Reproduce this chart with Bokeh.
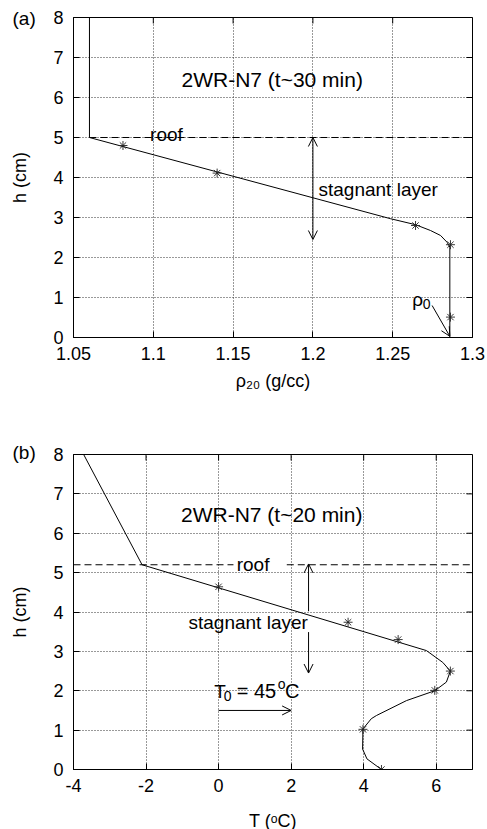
from bokeh.plotting import figure
from bokeh.layouts import column
from bokeh.models import (Label, Arrow, OpenHead, FixedTicker, Title,
                          CustomJSTickFormatter, Range1d)
from bokeh.embed import file_html
from bokeh.resources import INLINE

FONT = "Liberation Sans"

# ---------------- data : panel (a) ----------------
a_curve_rho = [1.06, 1.06, 1.2486, 1.2643, 1.2737, 1.280, 1.2841, 1.2858, 1.2858]
a_curve_h = [8.0, 5.0, 2.97, 2.82, 2.675, 2.55, 2.38, 2.26, 0.0]
a_pts_rho = [1.081, 1.140, 1.2643, 1.2862, 1.2862]
a_pts_h = [4.8, 4.11, 2.8, 2.32, 0.51]
a_roof_rho = [1.06, 1.3]
a_roof_h = [5.0, 5.0]
a_xrange = (1.05, 1.3)
a_xticks = [1.05, 1.1, 1.15, 1.2, 1.25, 1.3]
a_arrow_stag = (1.2, 5.0, 1.2, 2.45)        # double arrow x0,y0,x1,y1
a_arrow_rho0 = (1.2747, 0.80, 1.2858, 0.03)

# ---------------- data : panel (b) ----------------
b_curve_T = [-3.72, -2.11, 5.73, 6.18, 6.39, 6.28, 5.96, 5.18, 4.35, 4.21, 3.98, 3.97, 4.09, 4.49]
b_curve_h = [8.0, 5.2, 3.02, 2.72, 2.5, 2.22, 2.0, 1.75, 1.37, 1.29, 1.03, 0.52, 0.27, 0.0]
b_pts_T = [0.0, 3.57, 4.95, 6.39, 5.96, 3.98, 4.49]
b_pts_h = [4.64, 3.74, 3.30, 2.50, 2.01, 1.02, 0.0]
b_roof_T = [[-4, 0.41], [1.88, 7]]
b_roof_h = [[5.2, 5.2], [5.2, 5.2]]
b_xrange = (-4, 7)
b_xticks = [-4, -2, 0, 2, 4, 6]
b_arrow_up = (2.48, 4.02, 2.48, 5.22)
b_arrow_down = (2.48, 3.49, 2.48, 2.45)
b_arrow_T0 = (0.0, 1.5, 2.0, 1.5)

h_range = (0, 8)
h_ticks = [0, 1, 2, 3, 4, 5, 6, 7, 8]

FRAME_W = 399
TICK_PX = 6


def make_fig(xr, xticks, frame_h, top, bottom, xlabel, fmt_code, xlab_standoff):
    p = figure(frame_width=FRAME_W, frame_height=frame_h,
               x_range=Range1d(*xr), y_range=Range1d(*h_range),
               output_backend="svg", toolbar_location=None,
               min_border_left=73, min_border_right=15,
               min_border_top=top, min_border_bottom=bottom,
               background_fill_color="white", border_fill_color="white")
    p.outline_line_color = "black"
    p.outline_line_width = 1
    for ax, ticks in ((p.xaxis[0], xticks), (p.yaxis[0], h_ticks)):
        ax.ticker = FixedTicker(ticks=ticks)
        ax.major_tick_in = TICK_PX
        ax.major_tick_out = 0
        ax.minor_tick_in = 0
        ax.minor_tick_out = 0
        ax.axis_line_color = "black"
        ax.major_tick_line_color = "black"
        ax.major_label_text_font = FONT
        ax.major_label_text_font_size = "18px"
        ax.major_label_text_color = "black"
        ax.axis_label_text_font = FONT
        ax.axis_label_text_font_size = "18px"
        ax.axis_label_text_font_style = "normal"
        ax.axis_label_text_color = "black"
    p.xaxis[0].formatter = CustomJSTickFormatter(code=fmt_code)
    p.yaxis[0].formatter = CustomJSTickFormatter(code="return tick.toFixed(0);")
    p.xaxis[0].axis_label = xlabel
    p.yaxis[0].axis_label = "h (cm)"
    p.xaxis[0].major_label_standoff = 9
    p.xaxis[0].axis_label_standoff = xlab_standoff
    p.yaxis[0].major_label_standoff = 10
    p.yaxis[0].axis_label_standoff = 20

    p.xgrid.ticker = FixedTicker(ticks=xticks)
    p.ygrid.ticker = FixedTicker(ticks=h_ticks)
    for g in (p.xgrid, p.ygrid):
        g.grid_line_color = "#333333"
        g.grid_line_dash = "1 2"
        g.grid_line_width = 1

    # mirrored inward ticks on the top and right frame edges
    dy = TICK_PX * (h_range[1] - h_range[0]) / frame_h
    dx = TICK_PX * (xr[1] - xr[0]) / FRAME_W
    p.segment(x0=xticks, y0=[h_range[1]] * len(xticks),
              x1=xticks, y1=[h_range[1] - dy] * len(xticks),
              line_color="black", line_width=1)
    p.segment(x0=[xr[1]] * len(h_ticks), y0=h_ticks,
              x1=[xr[1] - dx] * len(h_ticks), y1=h_ticks,
              line_color="black", line_width=1)
    return p


def label(p, x, y, text, align="left", size="19px", baseline="alphabetic"):
    p.add_layout(Label(x=x, y=y, text=text, text_font=FONT, text_font_size=size,
                       text_color="black", text_align=align, text_baseline=baseline))


def arrow(p, coords, double=False):
    x0, y0, x1, y1 = coords
    head = lambda: OpenHead(size=9, line_width=1, line_color="black")
    p.add_layout(Arrow(x_start=x0, y_start=y0, x_end=x1, y_end=y1,
                       line_color="black", line_width=1,
                       end=head(), start=head() if double else None))


def panel_tag(p, text, standoff):
    p.add_layout(Title(text=text, align="left", offset=-61, standoff=standoff,
                       vertical_align="bottom", text_font=FONT,
                       text_font_size="19px", text_font_style="normal",
                       text_color="black"), "above")


# ---------------- panel (a) ----------------
pa = make_fig(a_xrange, a_xticks, 320, 17, 78, "ρ₂₀ (g/cc)",
              "return String(parseFloat(tick.toFixed(2)));", 8)
pa.line(a_roof_rho, a_roof_h, line_color="black", line_width=1, line_dash="7 4")
pa.line(a_curve_rho, a_curve_h, line_color="black", line_width=1)
pa.scatter(a_pts_rho, a_pts_h, marker="asterisk", size=9, line_color="#222222", line_width=0.9)
arrow(pa, a_arrow_stag, double=True)
arrow(pa, a_arrow_rho0)
label(pa, 1.1745, 6.46, "2WR-N7 (t~30 min)", align="center", size="21px")
label(pa, 1.098, 5.08, "roof")
label(pa, 1.2035, 3.69, "stagnant layer")
label(pa, 1.2622, 0.95, "ρ")
label(pa, 1.2689, 0.84, "0", size="14px")
panel_tag(pa, "(a)", -22)

# ---------------- panel (b) ----------------
pb = make_fig(b_xrange, b_xticks, 315, 39, 60, "T (ᵒC)",
              "return tick.toFixed(0);", 16)
pb.multi_line(b_roof_T, b_roof_h, line_color="black", line_width=1, line_dash="7 4")
pb.line(b_curve_T, b_curve_h, line_color="black", line_width=1)
pb.scatter(b_pts_T, b_pts_h, marker="asterisk", size=9, line_color="#222222", line_width=0.9)
arrow(pb, b_arrow_up)
arrow(pb, b_arrow_down)
arrow(pb, b_arrow_T0)
label(pb, 1.465, 6.47, "2WR-N7 (t~20 min)", align="center", size="21px")
label(pb, 0.5, 5.21, "roof")
label(pb, -0.83, 3.74, "stagnant layer")
label(pb, -0.12, 1.99, "T")
label(pb, 0.14, 1.87, "0", size="14px")
label(pb, 0.50, 1.99, "= 45", size="20px")
label(pb, 1.63, 2.17, "o", size="14px")
label(pb, 1.83, 1.99, "C", size="20px")
panel_tag(pb, "(b)", -16)

layout = column(pa, pb, spacing=0)
open("out.html", "w").write(file_html(layout, INLINE))
